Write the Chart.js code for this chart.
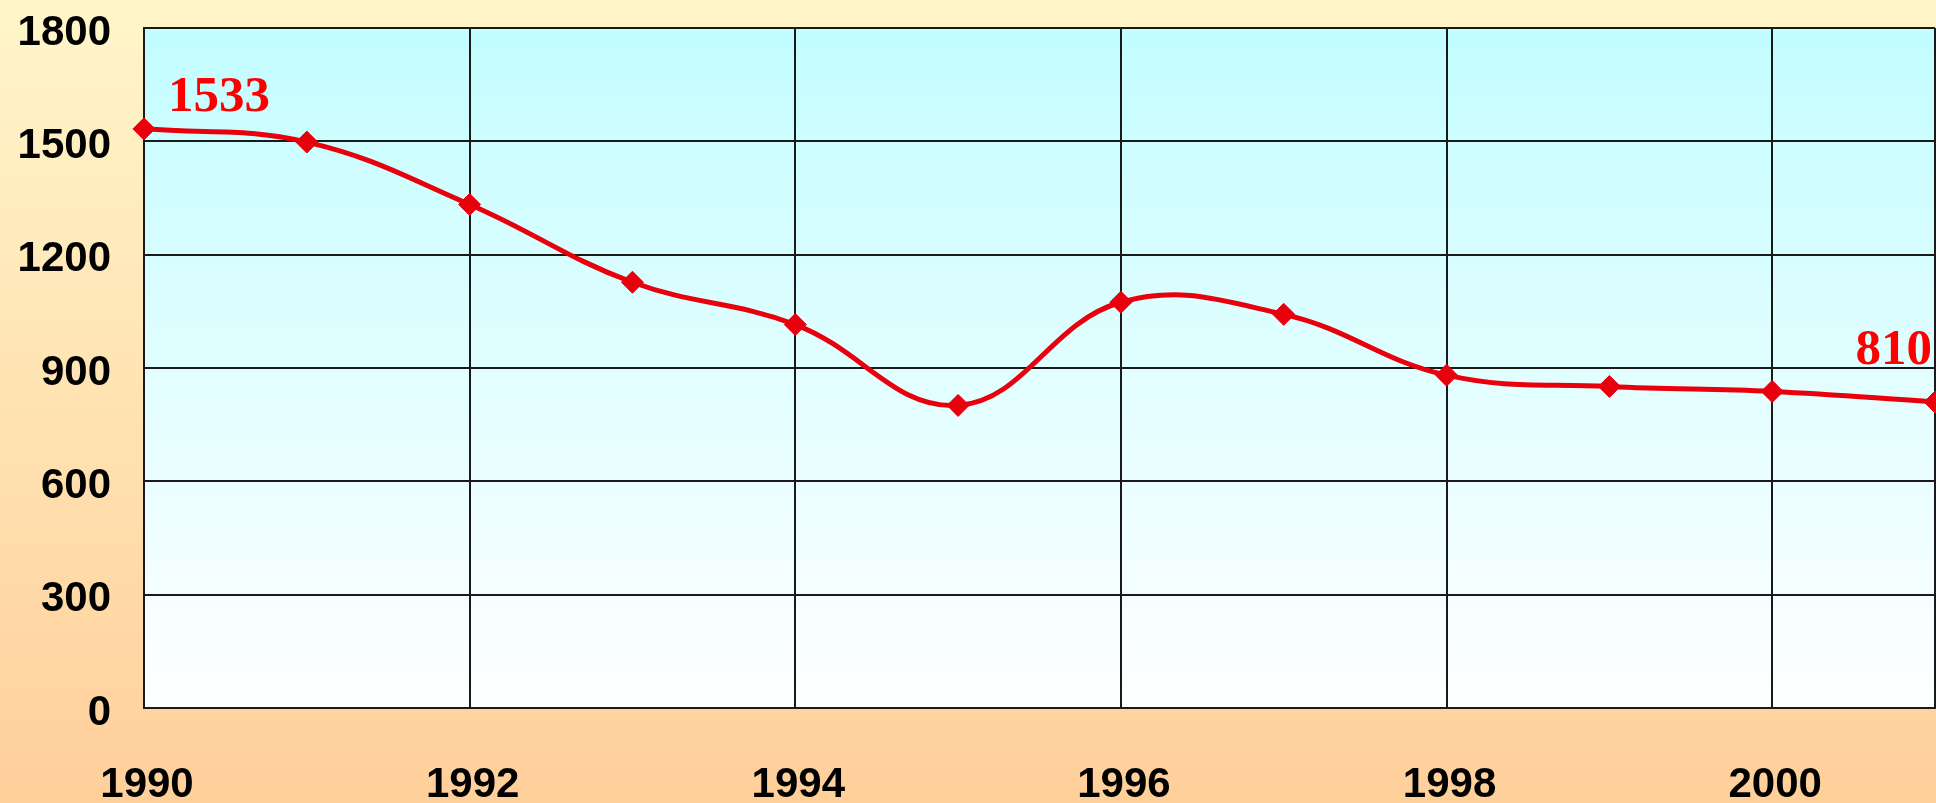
<!DOCTYPE html>
<html>
<head>
<meta charset="utf-8">
<script src="https://cdn.jsdelivr.net/npm/chart.js@4/dist/chart.umd.min.js"></script>
<style>
  html, body { margin: 0; padding: 0; background: #fff; }
  #wrap { width: 1936px; height: 803px; }
</style>
</head>
<body>
<div id="wrap"><canvas id="chart" width="1936" height="803"></canvas></div>
<script>
// 年份与数值
const years = ['1990', '1991', '1992', '1993', '1994', '1995', '1996', '1997', '1998', '1999', '2000', '2001'];
const values = [1533, 1498, 1333, 1127, 1015, 801, 1074, 1042, 881, 851, 838, 810];
// 需要标出数值的点（首尾）
const labelledIndexes = [0, 11];
// 纵轴刻度
const yMin = 0;
const yMax = 1800;
const yStep = 300;

const lineColor = '#e8000c';
const gridColor = '#1a1a1a';

// 画布背景和绘图区渐变
const backgroundPlugin = {
    id: 'backgrounds',
    beforeDraw(chart) {
        const { ctx, width, height, chartArea } = chart;
        ctx.save();
        const bg = ctx.createLinearGradient(0, 0, 0, height);
        bg.addColorStop(0, '#fff6ca');
        bg.addColorStop(0.5, '#ffe3b3');
        bg.addColorStop(1, '#ffcf9a');
        ctx.fillStyle = bg;
        ctx.fillRect(0, 0, width, height);

        const pg = ctx.createLinearGradient(0, chartArea.top, 0, chartArea.bottom);
        pg.addColorStop(0, '#c3fdff');
        pg.addColorStop(1, '#ffffff');
        ctx.fillStyle = pg;
        ctx.fillRect(chartArea.left, chartArea.top, chartArea.right - chartArea.left, chartArea.bottom - chartArea.top);
        ctx.restore();
    }
};

// 首尾数据点的数值标注
const valueLabelPlugin = {
    id: 'valueLabels',
    afterDatasetsDraw(chart) {
        const { ctx } = chart;
        const meta = chart.getDatasetMeta(0);
        ctx.save();
        ctx.fillStyle = '#ff0000';
        ctx.font = 'bold 51px "Liberation Serif", "Times New Roman", serif';
        ctx.textBaseline = 'alphabetic';
        labelledIndexes.forEach(i => {
            const pt = meta.data[i];
            const text = String(values[i]);
            if (i === 0) {
                ctx.textAlign = 'left';
                ctx.fillText(text, pt.x + 24, pt.y - 18);
            } else {
                ctx.textAlign = 'right';
                ctx.fillText(text, pt.x - 3, pt.y - 38);
            }
        });
        ctx.restore();
    }
};

const tickFont = { family: '"Liberation Sans", Arial, sans-serif', size: 42, weight: 'bold' };

new Chart(document.getElementById('chart'), {
    type: 'line',
    data: {
        labels: years,
        datasets: [{
            data: values,
            borderColor: lineColor,
            borderWidth: 5,
            tension: 0.4,
            pointStyle: 'rectRot',
            pointRadius: 11,
            pointBackgroundColor: lineColor,
            pointBorderColor: lineColor,
            pointBorderWidth: 1,
            clip: false
        }]
    },
    options: {
        responsive: false,
        animation: false,
        layout: { padding: 0, autoPadding: false },
        plugins: {
            legend: { display: false },
            tooltip: { enabled: false }
        },
        scales: {
            x: {
                offset: false,
                grid: {
                    drawTicks: false,
                    lineWidth: 2,
                    color: ctx => (ctx.index % 2 === 0 || ctx.index === years.length - 1) ? gridColor : 'rgba(0,0,0,0)'
                },
                border: { color: gridColor, width: 2 },
                ticks: {
                    autoSkip: false,
                    maxRotation: 0,
                    padding: 52,
                    labelOffset: 3,
                    color: '#000',
                    font: tickFont,
                    callback: (val, i) => (i % 2 === 0 ? years[i] : '')
                },
                afterFit: scale => {
                    scale.height = 95;
                    scale.paddingLeft = 0;
                    scale.paddingRight = 1;
                }
            },
            y: {
                min: yMin,
                max: yMax,
                grid: { drawTicks: false, lineWidth: 2, color: gridColor },
                border: { color: gridColor, width: 2 },
                ticks: {
                    stepSize: yStep,
                    padding: 33,
                    labelOffset: 5,
                    color: '#000',
                    font: tickFont,
                    callback: val => String(val)
                },
                afterFit: scale => {
                    scale.width = 144;
                    scale.paddingTop = 28;
                    scale.paddingBottom = 0;
                }
            }
        }
    },
    plugins: [backgroundPlugin, valueLabelPlugin]
});
</script>
</body>
</html>
